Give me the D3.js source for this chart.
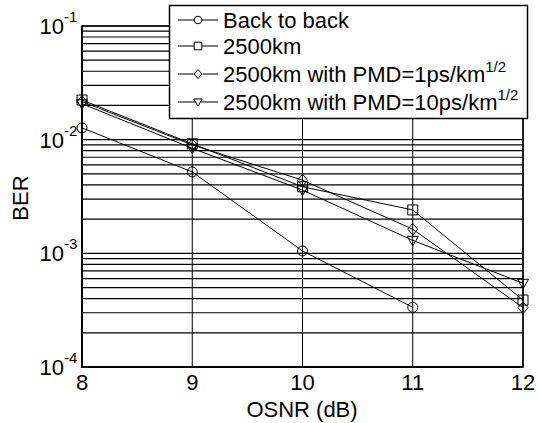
<!DOCTYPE html>
<html><head><meta charset="utf-8">
<script src="https://cdn.jsdelivr.net/npm/d3@7"></script>
<style>body{margin:0;background:#fff}svg{display:block}text{font-family:"Liberation Sans",Arial,sans-serif;fill:#000}</style>
</head><body>
<svg id="c" width="539" height="423"></svg>
<script>
const osnr = [8, 9, 10, 11, 12];
const backToBack = [1.27e-2, 5.2e-3, 1.05e-3, 3.35e-4];
const km2500 = [2.23e-2, 9.2e-3, 3.85e-3, 2.41e-3, 3.88e-4];
const pmd1 = [2.16e-2, 9.0e-3, 4.4e-3, 1.63e-3, 3.33e-4];
const pmd10 = [2.07e-2, 8.4e-3, 3.6e-3, 1.3e-3, 5.45e-4];
const xTicks = [8, 9, 10, 11, 12];
const yDecades = [-1, -2, -3, -4];
const seriesNames = ["Back to back", "2500km", "2500km with PMD=1ps/km", "2500km with PMD=10ps/km"];
const seriesSup = ["", "", "1/2", "1/2"];
const markers = ["circle", "square", "diamond", "triangle"];

const W = 539, H = 423;
const m = {l: 82, r: 523, t: 26, b: 367};
const FS = 22, FSS = 15;
const svg = d3.select("#c");
const x = d3.scaleLinear().domain([8, 12]).range([m.l, m.r]);
const y = d3.scaleLog().domain([1e-4, 1e-1]).range([m.b, m.t]);

// horizontal grid (log minor + decades)
const gridVals = [];
for (let e = -4; e < -1; e++) for (let k = 1; k <= 9; k++) gridVals.push(k * Math.pow(10, e));
gridVals.push(1e-1);
svg.append("g").selectAll("line").data(gridVals).join("line")
  .attr("x1", m.l).attr("x2", m.r)
  .attr("y1", d => y(d)).attr("y2", d => y(d))
  .attr("stroke", "#000").attr("stroke-width", 1.2);
// vertical grid
svg.append("g").selectAll("line").data(xTicks).join("line")
  .attr("x1", d => x(d)).attr("x2", d => x(d))
  .attr("y1", m.t).attr("y2", m.b)
  .attr("stroke", "#000").attr("stroke-width", 1);

// frame
svg.append("rect").attr("x", m.l).attr("y", m.t).attr("width", m.r - m.l).attr("height", m.b - m.t)
  .attr("fill", "none").attr("stroke", "#000").attr("stroke-width", 1.5);
svg.append("line").attr("x1", m.l).attr("x2", m.l).attr("y1", m.t).attr("y2", m.b + 1).attr("stroke", "#000").attr("stroke-width", 2);
svg.append("line").attr("x1", m.l - 1).attr("x2", m.r).attr("y1", m.b).attr("y2", m.b).attr("stroke", "#000").attr("stroke-width", 2);

// x tick labels
svg.append("g").selectAll("text").data(xTicks).join("text")
  .attr("x", d => x(d)).attr("y", 390).attr("text-anchor", "middle")
  .attr("font-size", FS).text(d => d);
// y tick labels
svg.append("g").selectAll("text").data(yDecades).join("text")
  .attr("x", 64).attr("y", d => y(Math.pow(10, d)) + 8).attr("text-anchor", "end")
  .attr("font-size", FS).text("10");
svg.append("g").selectAll("text").data(yDecades).join("text")
  .attr("x", 64).attr("y", d => y(Math.pow(10, d)) - 4).attr("text-anchor", "start")
  .attr("font-size", FSS).text(d => "-" + Math.abs(d));

// axis titles
svg.append("text").attr("x", 302).attr("y", 417).attr("text-anchor", "middle").attr("font-size", FS).text("OSNR (dB)");
svg.append("text").attr("transform", "translate(28,198) rotate(-90)").attr("text-anchor", "middle").attr("font-size", FS).text("BER");

// series
const series = [backToBack, km2500, pmd1, pmd10];
function markerPath(type, s) {
  if (type === "circle") return d3.symbol(d3.symbolCircle, Math.PI * s * s)();
  if (type === "square") return `M${-s},${-s}H${s}V${s}H${-s}Z`;
  if (type === "diamond") return `M0,${-s * 1.2}L${s},0L0,${s * 1.2}L${-s},0Z`;
  return `M${-s * 1.1},${-s * 0.8}H${s * 1.1}L0,${s * 1.1}Z`;
}
const line = d3.line().x((d, i) => x(osnr[i])).y(d => y(d));
series.forEach((vals, si) => {
  const g = svg.append("g");
  g.append("path").attr("d", line(vals)).attr("fill", "none").attr("stroke", "#000").attr("stroke-width", 1);
  g.selectAll("path.m").data(vals).join("path").attr("class", "m")
    .attr("transform", (d, i) => `translate(${x(osnr[i])},${y(d)})`)
    .attr("d", markerPath(markers[si], 5))
    .attr("fill", "none").attr("stroke", "#000").attr("stroke-width", 1);
});

// legend
const lg = svg.append("g");
lg.append("rect").attr("x", 169.5).attr("y", 5.5).attr("width", 358).attr("height", 113)
  .attr("fill", "#fff").attr("stroke", "#000").attr("stroke-width", 1.5);
const rowY = [20, 46, 74, 102];
seriesNames.forEach((name, i) => {
  lg.append("line").attr("x1", 178).attr("x2", 218).attr("y1", rowY[i]).attr("y2", rowY[i]).attr("stroke", "#000").attr("stroke-width", 1);
  lg.append("path").attr("transform", `translate(198,${rowY[i]})`).attr("d", markerPath(markers[i], 3.8))
    .attr("fill", "#fff").attr("stroke", "#000").attr("stroke-width", 1);
  const t = lg.append("text").attr("x", 223).attr("y", rowY[i] + 8).attr("font-size", FS);
  t.append("tspan").text(name);
  if (seriesSup[i]) t.append("tspan").attr("font-size", FSS).attr("dy", -10).text(seriesSup[i]);
});
</script>
</body></html>
